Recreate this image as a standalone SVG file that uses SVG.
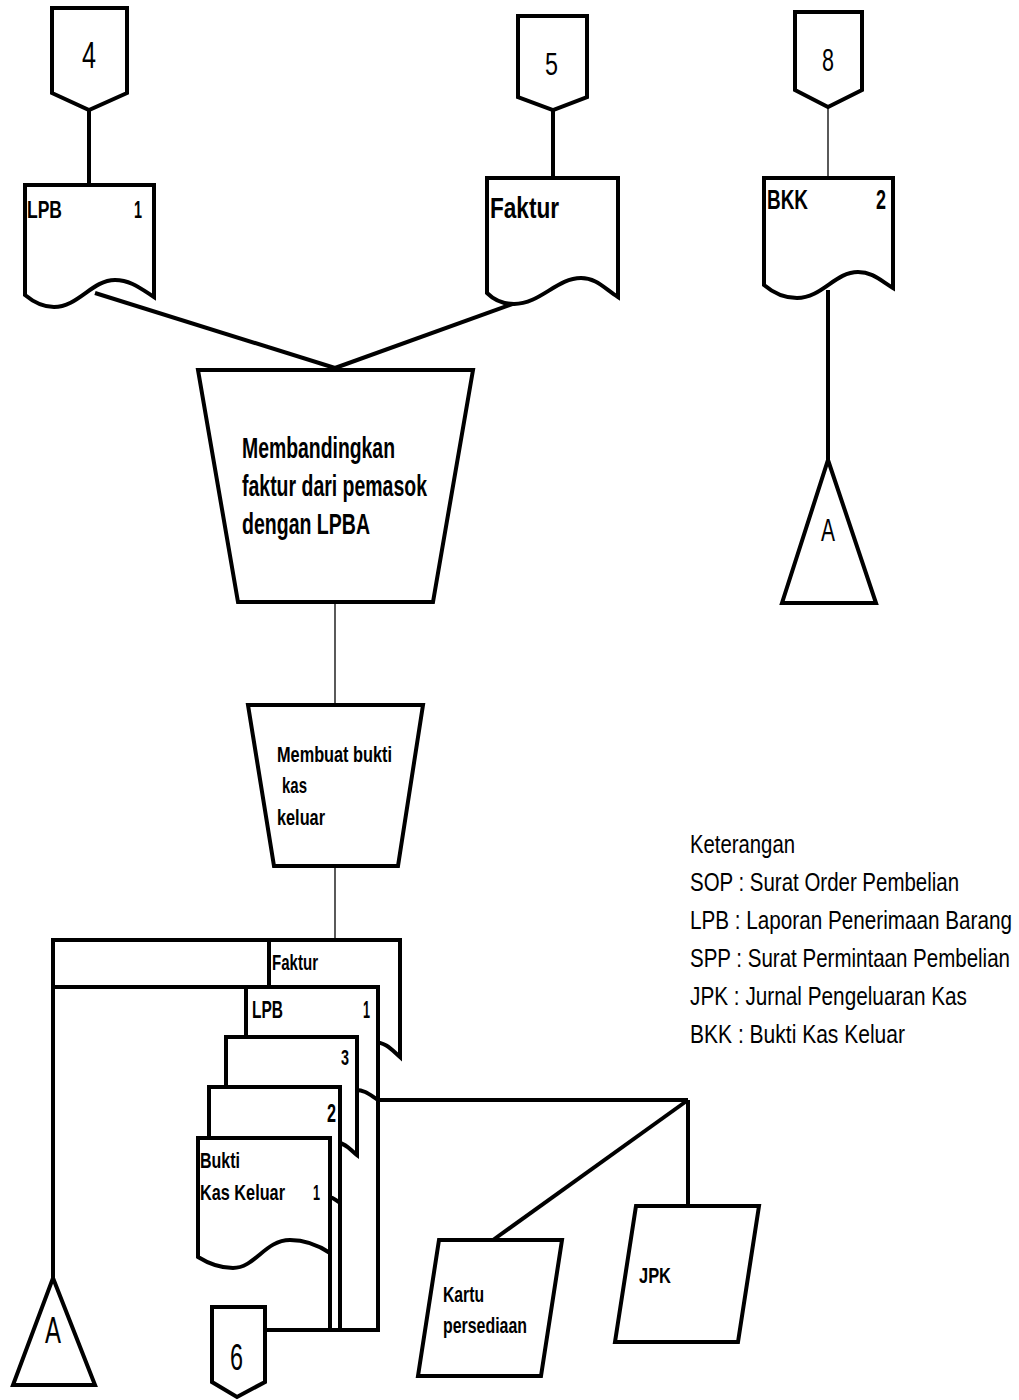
<svg xmlns="http://www.w3.org/2000/svg" width="1019" height="1400" viewBox="0 0 1019 1400">
<style>
.s{fill:#fff;stroke:#000;stroke-width:4;stroke-linejoin:miter}
.c{fill:none;stroke:#000;stroke-width:4}
.t{fill:none;stroke:#000;stroke-width:1.3}
text{font-family:"Liberation Sans Narrow","Liberation Sans",Arial,sans-serif;fill:#000}
.b{font-weight:bold}
</style>
<rect width="1019" height="1400" fill="#fff"/>
<g id="connectors">
<line class="c" x1="89" y1="110" x2="89" y2="185"/>
<line class="c" x1="553" y1="110" x2="553" y2="178"/>
<line class="t" x1="828" y1="107" x2="828" y2="178"/>
<line class="c" x1="95" y1="293" x2="335" y2="368"/>
<line class="c" x1="515" y1="303" x2="335" y2="368"/>
<line class="c" x1="828" y1="290" x2="828" y2="460"/>
<line class="t" x1="335" y1="602" x2="335" y2="705"/>
<line class="t" x1="335" y1="866" x2="335" y2="940"/>
<polyline class="c" points="269,940 53,940 53,1278"/>
<line class="c" x1="53" y1="987" x2="246" y2="987"/>
<polyline class="c" points="378,1100 378,1330 265,1330"/>
<line class="c" x1="340" y1="1200" x2="340" y2="1330"/>
<line class="c" x1="330" y1="1250" x2="330" y2="1330"/>
<line class="c" x1="378" y1="1100" x2="688" y2="1100"/>
<line class="c" x1="688" y1="1100" x2="688" y2="1206"/>
<line class="c" x1="688" y1="1100" x2="493" y2="1240"/>
</g>
<g id="conn4"><path class="s" d="M52,8 H127 V93 L89,110 L52,93 Z"/><text x="82" y="68" font-size="37" textLength="14" lengthAdjust="spacingAndGlyphs">4</text></g>
<g id="conn5"><path class="s" d="M518,16 H587 V97 L553,110 L518,97 Z"/><text x="545" y="75" font-size="32" textLength="13" lengthAdjust="spacingAndGlyphs">5</text></g>
<g id="conn8"><path class="s" d="M795,12 H862 V90 L828,107 L795,90 Z"/><text x="822" y="71" font-size="31" textLength="12" lengthAdjust="spacingAndGlyphs">8</text></g>
<g id="docLPB"><path class="s" d="M25,185 H154 V297 C140,288 130,280 115,280 C92,280 78,307 54,307 C40,307 31,300 25,295 Z"/>
<text class="b" x="27" y="218" font-size="23" textLength="35" lengthAdjust="spacingAndGlyphs">LPB</text>
<text class="b" x="134" y="218" font-size="23" textLength="8" lengthAdjust="spacingAndGlyphs">1</text></g>
<g id="docFaktur"><path class="s" d="M487,178 H618 V297 C604,288 596,278 581,278 C557,278 540,304 514,304 C501,304 492,298 487,293 Z"/>
<text class="b" x="490" y="218" font-size="30" textLength="69" lengthAdjust="spacingAndGlyphs">Faktur</text></g>
<g id="docBKK"><path class="s" d="M764,178 H893 V288 C880,280 872,272 858,272 C835,272 822,298 797,298 C782,298 771,291 764,285 Z"/>
<text class="b" x="767" y="209" font-size="27" textLength="41" lengthAdjust="spacingAndGlyphs">BKK</text>
<text class="b" x="876" y="209" font-size="27" textLength="10" lengthAdjust="spacingAndGlyphs">2</text></g>
<g id="offA1"><path class="s" d="M828,460 L876,603 L782,603 Z"/><text x="821" y="541" font-size="32" textLength="14" lengthAdjust="spacingAndGlyphs">A</text></g>
<g id="proc1"><path class="s" d="M198,370 H473 L433,602 H238 Z"/>
<text class="b" x="242" y="458" font-size="29" textLength="153" lengthAdjust="spacingAndGlyphs">Membandingkan</text>
<text class="b" x="242" y="496" font-size="29" textLength="185" lengthAdjust="spacingAndGlyphs">faktur dari pemasok</text>
<text class="b" x="242" y="534" font-size="29" textLength="128" lengthAdjust="spacingAndGlyphs">dengan LPBA</text></g>
<g id="proc2"><path class="s" d="M248,705 H423 L398,866 H274 Z"/>
<text class="b" x="277" y="762" font-size="22" textLength="115" lengthAdjust="spacingAndGlyphs">Membuat bukti</text>
<text class="b" x="282" y="793" font-size="22" textLength="25" lengthAdjust="spacingAndGlyphs">kas</text>
<text class="b" x="277" y="825" font-size="22" textLength="48" lengthAdjust="spacingAndGlyphs">keluar</text></g>
<g id="docFaktur2"><path class="s" d="M269,940 H400 V1057 C392,1050 386,1042 373,1042 C350,1042 335,1068 310,1068 C290,1068 278,1060 269,1055 Z"/>
<text class="b" x="272" y="970" font-size="22" textLength="46" lengthAdjust="spacingAndGlyphs">Faktur</text></g>
<g id="docLPB2"><path class="s" d="M246,987 H378 V1100 C370,1095 365,1090 356,1090 C333,1090 318,1115 293,1115 C272,1115 258,1108 246,1102 Z"/>
<text class="b" x="252" y="1018" font-size="23" textLength="31" lengthAdjust="spacingAndGlyphs">LPB</text>
<text class="b" x="363" y="1018" font-size="23" textLength="7" lengthAdjust="spacingAndGlyphs">1</text></g>
<g id="doc3"><path class="s" d="M226,1037 H357 V1155 C350,1150 346,1143 338,1143 C315,1143 300,1168 275,1168 C255,1168 240,1161 226,1155 Z"/>
<text class="b" x="341" y="1065" font-size="22" textLength="8" lengthAdjust="spacingAndGlyphs">3</text></g>
<g id="doc2"><path class="s" d="M209,1087 H340 V1203 C336,1200 333,1197 328,1197 C305,1197 290,1220 265,1220 C243,1220 225,1212 209,1206 Z"/>
<text class="b" x="327" y="1122" font-size="26" textLength="9" lengthAdjust="spacingAndGlyphs">2</text></g>
<g id="docBukti"><path class="s" d="M198,1138 H330 V1253 C318,1245 305,1240 290,1240 C265,1240 255,1268 233,1268 C218,1268 206,1262 198,1257 Z"/>
<text class="b" x="200" y="1168" font-size="22" textLength="40" lengthAdjust="spacingAndGlyphs">Bukti</text>
<text class="b" x="200" y="1200" font-size="22" textLength="85" lengthAdjust="spacingAndGlyphs">Kas Keluar</text>
<text class="b" x="313" y="1200" font-size="22" textLength="7" lengthAdjust="spacingAndGlyphs">1</text></g>
<g id="offA2"><path class="s" d="M53,1278 L95,1385 L13,1385 Z"/><text x="45" y="1343" font-size="36" textLength="16" lengthAdjust="spacingAndGlyphs">A</text></g>
<g id="conn6"><path class="s" d="M212,1307 H265 V1382 L237,1397 L212,1382 Z"/><text x="230" y="1370" font-size="37" textLength="13" lengthAdjust="spacingAndGlyphs">6</text></g>
<g id="kartu"><path class="s" d="M439,1240 H562 L541,1376 H418 Z"/>
<text class="b" x="443" y="1302" font-size="22" textLength="41" lengthAdjust="spacingAndGlyphs">Kartu</text>
<text class="b" x="443" y="1333" font-size="22" textLength="84" lengthAdjust="spacingAndGlyphs">persediaan</text></g>
<g id="jpk"><path class="s" d="M636,1206 H759 L738,1342 H615 Z"/>
<text class="b" x="639" y="1283" font-size="22" textLength="32" lengthAdjust="spacingAndGlyphs">JPK</text></g>
<g id="legend" font-size="25">
<text x="690" y="853" textLength="105" lengthAdjust="spacingAndGlyphs">Keterangan</text>
<text x="690" y="891" textLength="269" lengthAdjust="spacingAndGlyphs">SOP : Surat Order Pembelian</text>
<text x="690" y="929" textLength="322" lengthAdjust="spacingAndGlyphs">LPB : Laporan Penerimaan Barang</text>
<text x="690" y="967" textLength="320" lengthAdjust="spacingAndGlyphs">SPP : Surat Permintaan Pembelian</text>
<text x="690" y="1005" textLength="277" lengthAdjust="spacingAndGlyphs">JPK : Jurnal Pengeluaran Kas</text>
<text x="690" y="1043" textLength="215" lengthAdjust="spacingAndGlyphs">BKK : Bukti Kas Keluar</text>
</g>
</svg>
